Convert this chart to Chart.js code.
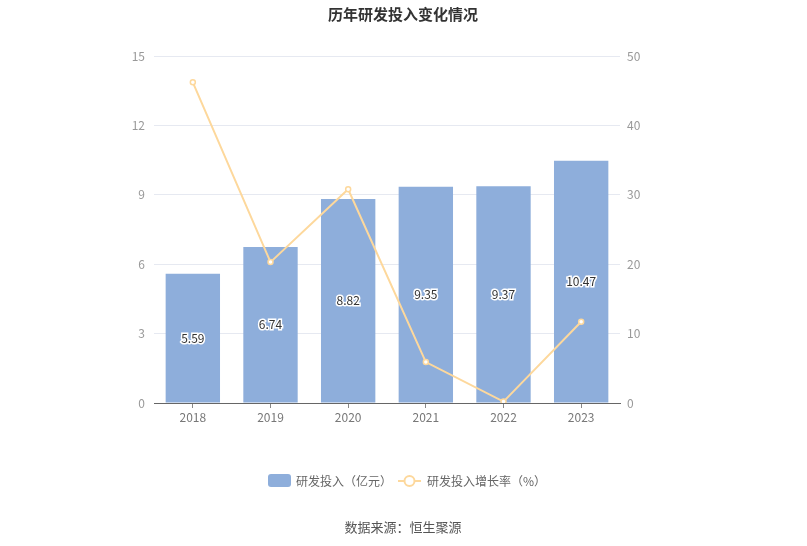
<!DOCTYPE html>
<html>
<head>
<meta charset="utf-8">
<script src="https://cdn.jsdelivr.net/npm/chart.js@4/dist/chart.umd.min.js"></script>
<style>
  html, body { margin: 0; padding: 0; background: #fff; }
</style>
</head>
<body>
<canvas id="chart" width="807" height="546"></canvas>
<script>
const years = ["2018", "2019", "2020", "2021", "2022", "2023"];
const rdSpend = [5.59, 6.74, 8.82, 9.35, 9.37, 10.47];   // 亿元
const rdGrowth = [46.2, 20.3, 30.8, 5.9, 0.2, 11.7];     // %
const leftTicks = [0, 3, 6, 9, 12, 15];
const rightTicks = [0, 10, 20, 30, 40, 50];

const FONT = '"Noto Sans CJK SC", "Microsoft YaHei", sans-serif';
const barColor = '#8eaedb';
const lineColor = '#fdd89c';

// labels in the middle of every bar + title, legend, source
const decor = {
  id: 'decor',
  afterDatasetsDraw(chart) {
    const ctx = chart.ctx;
    const meta = chart.getDatasetMeta(0);
    ctx.save();
    ctx.font = '12px ' + FONT;
    ctx.textAlign = 'center';
    ctx.textBaseline = 'middle';
    meta.data.forEach((bar, i) => {
      const y = (bar.y + bar.base) / 2;
      ctx.lineWidth = 3;
      ctx.strokeStyle = '#fff';
      ctx.strokeText(rdSpend[i].toFixed(2), bar.x, y);
      ctx.fillStyle = '#333';
      ctx.fillText(rdSpend[i].toFixed(2), bar.x, y);
    });
    ctx.restore();
  },
  afterDraw(chart) {
    const ctx = chart.ctx;
    ctx.save();
    // title
    ctx.font = 'bold 15px ' + FONT;
    ctx.fillStyle = '#333';
    ctx.textAlign = 'center';
    ctx.textBaseline = 'middle';
    ctx.fillText('历年研发投入变化情况', 403, 14);

    // legend
    ctx.font = '12px ' + FONT;
    ctx.textAlign = 'left';
    ctx.fillStyle = barColor;
    ctx.beginPath();
    ctx.roundRect(268, 474, 23, 13, 3);
    ctx.fill();
    ctx.fillStyle = '#666';
    ctx.fillText('研发投入（亿元）', 296, 481);

    ctx.strokeStyle = lineColor;
    ctx.lineWidth = 2;
    ctx.beginPath();
    ctx.moveTo(398, 481);
    ctx.lineTo(421, 481);
    ctx.stroke();
    ctx.beginPath();
    ctx.arc(409.5, 481, 5, 0, Math.PI * 2);
    ctx.fillStyle = '#fff';
    ctx.fill();
    ctx.stroke();
    ctx.fillStyle = '#666';
    ctx.fillText('研发投入增长率（%）', 427, 481);

    // source
    ctx.font = '13px ' + FONT;
    ctx.textAlign = 'center';
    ctx.fillStyle = '#555';
    ctx.fillText('数据来源：恒生聚源', 403, 527);
    ctx.restore();
  }
};

new Chart(document.getElementById('chart'), {
  type: 'bar',
  data: {
    labels: years,
    datasets: [
      {
        type: 'bar',
        label: '研发投入（亿元）',
        data: rdSpend,
        backgroundColor: barColor,
        borderWidth: 0,
        categoryPercentage: 0.7,
        barPercentage: 1,
        yAxisID: 'y',
        order: 2
      },
      {
        type: 'line',
        label: '研发投入增长率（%）',
        data: rdGrowth,
        borderColor: lineColor,
        borderWidth: 2,
        pointRadius: 2.5,
        pointBorderWidth: 1.5,
        pointBackgroundColor: '#fff',
        pointBorderColor: lineColor,
        tension: 0,
        yAxisID: 'y1',
        order: 1
      }
    ]
  },
  options: {
    responsive: false,
    animation: false,
    devicePixelRatio: 1,
    layout: { padding: { top: 56, left: 0, right: 0, bottom: 0 } },
    plugins: {
      legend: { display: false },
      tooltip: { enabled: false },
      title: { display: false }
    },
    scales: {
      x: {
        offset: true,
        grid: {
          offset: false,
          drawOnChartArea: false,
          drawTicks: true,
          tickLength: 5,
          color: '#888'
        },
        border: { display: true, color: '#666', width: 1 },
        ticks: {
          color: '#777',
          font: { size: 12, family: FONT },
          padding: 2
        },
        afterFit(scale) { scale.height = 143; }
      },
      y: {
        position: 'left',
        min: 0,
        max: 15,
        afterBuildTicks(scale) { scale.ticks = leftTicks.map(v => ({ value: v })); },
        grid: { color: '#e6e9f1', drawTicks: false },
        border: { display: false },
        ticks: {
          color: '#999',
          font: { size: 12, family: FONT },
          padding: 9
        },
        afterFit(scale) { scale.width = 154; }
      },
      y1: {
        position: 'right',
        min: 0,
        max: 50,
        afterBuildTicks(scale) { scale.ticks = rightTicks.map(v => ({ value: v })); },
        grid: { drawOnChartArea: false, drawTicks: false },
        border: { display: false },
        ticks: {
          color: '#999',
          font: { size: 12, family: FONT },
          padding: 7
        },
        afterFit(scale) { scale.width = 187; }
      }
    }
  },
  plugins: [decor]
});
</script>
</body>
</html>
